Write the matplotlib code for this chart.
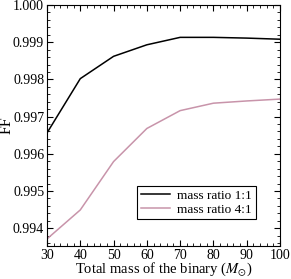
import matplotlib
matplotlib.use('Agg')
import matplotlib.pyplot as plt
from matplotlib.ticker import MultipleLocator

plt.rcParams['font.family'] = ['Liberation Serif', 'DejaVu Serif']
plt.rcParams['mathtext.fontset'] = 'stix'

# masa calkowita ukladu i FF dla dwoch stosunkow mas
mass = [30, 40, 50, 60, 70, 80, 90, 100]
ff_11 = [0.99656, 0.99802, 0.99862, 0.99893, 0.99913, 0.99913, 0.99911, 0.99908]
ff_41 = [0.99371, 0.99449, 0.99579, 0.99668, 0.99716, 0.99736, 0.99742, 0.99747]

fig = plt.figure(figsize=(2.91, 2.79), dpi=100)
ax = fig.add_axes([47/291, 1 - 246/279, 233/291, 241/279])

ax.plot(mass, ff_11, c='k', lw=1.1, label='mass ratio 1:1')
ax.plot(mass, ff_41, c='#c894aa', lw=1.1, label='mass ratio 4:1')

ax.set_xlim(30, 100)
ax.set_ylim(0.99352, 1.0)
ax.xaxis.set_major_locator(MultipleLocator(10))
ax.xaxis.set_minor_locator(MultipleLocator(2))
ax.yaxis.set_major_locator(MultipleLocator(0.001))
ax.yaxis.set_minor_locator(MultipleLocator(0.0002))
ax.tick_params(which='both', direction='in', top=True, right=True, labelsize=10, pad=2)
ax.tick_params(which='major', length=4)
ax.tick_params(which='minor', length=2)

ax.set_xlabel(r'Total mass of the binary ($M_{\odot}$)', fontsize=10.5, va='bottom')
ax.set_ylabel('FF', fontsize=11.5)
ax.xaxis.set_label_coords(0.5, (246 - 278.5) / 241)
ax.yaxis.set_label_coords((15 - 47) / 233, 0.5)

leg = ax.legend(loc='lower right', bbox_to_anchor=(0.895, 0.11), fontsize=9.5,
                fancybox=False, edgecolor='k', framealpha=1, handlelength=2.2,
                borderpad=0.3, labelspacing=0.1, handletextpad=0.5, borderaxespad=0)
leg.get_frame().set_linewidth(0.8)

fig.savefig('out.png', dpi=100)
